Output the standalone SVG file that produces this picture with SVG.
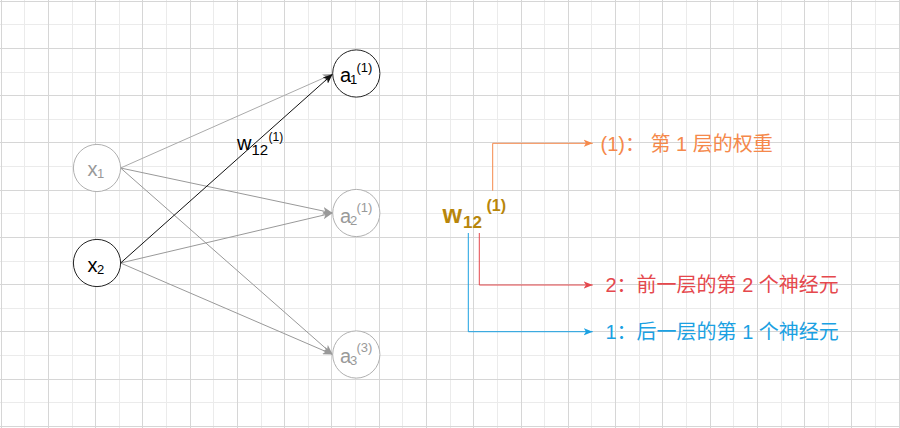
<svg xmlns="http://www.w3.org/2000/svg" width="900" height="428" viewBox="0 0 900 428">
<style>
.t{font-family:"Liberation Sans",Arial,"Noto Sans CJK SC",sans-serif}
.node{fill:#fff;stroke-width:1}
.dim{stroke:#b0b0b0}
.dark{stroke:#222}
.gt{fill:#999}
.bt{fill:#000}
.e{fill:none;stroke-width:1}
</style>
<defs>
<marker id="ag" viewBox="0 0 10 8" refX="10" refY="4" markerWidth="10" markerHeight="8" markerUnits="userSpaceOnUse" orient="auto"><path d="M0,0 L10,4 L0,8 L2.5,4 z" fill="#999"/></marker>
<marker id="ab" viewBox="0 0 10 8" refX="10" refY="4" markerWidth="10" markerHeight="8" markerUnits="userSpaceOnUse" orient="auto"><path d="M0,0 L10,4 L0,8 L2.5,4 z" fill="#111"/></marker>
<marker id="ao" viewBox="0 0 10 8" refX="10" refY="4" markerWidth="9" markerHeight="8" markerUnits="userSpaceOnUse" orient="auto"><path d="M0,0 L10,4 L0,8 L2.5,4 z" fill="#f5894b"/></marker>
<marker id="ar" viewBox="0 0 10 8" refX="10" refY="4" markerWidth="9" markerHeight="8" markerUnits="userSpaceOnUse" orient="auto"><path d="M0,0 L10,4 L0,8 L2.5,4 z" fill="#e5484d"/></marker>
<marker id="au" viewBox="0 0 10 8" refX="10" refY="4" markerWidth="9" markerHeight="8" markerUnits="userSpaceOnUse" orient="auto"><path d="M0,0 L10,4 L0,8 L2.5,4 z" fill="#1ba1e2"/></marker>
</defs>
<rect width="900" height="428" fill="#fff"/>
<g id="grid" fill="none" stroke-width="1">
<path stroke="#ebebeb" d="M24.5,0V428M72.5,0V428M119.5,0V428M166.5,0V428M213.5,0V428M261.5,0V428M308.5,0V428M355.5,0V428M402.5,0V428M450.5,0V428M497.5,0V428M544.5,0V428M591.5,0V428M639.5,0V428M686.5,0V428M733.5,0V428M781.5,0V428M828.5,0V428M875.5,0V428M0,24.5H900M0,72.5H900M0,119.5H900M0,166.5H900M0,213.5H900M0,261.5H900M0,308.5H900M0,355.5H900M0,402.5H900"/>
<path stroke="#d6d6d6" d="M1.5,0V428M48.5,0V428M95.5,0V428M142.5,0V428M190.5,0V428M237.5,0V428M284.5,0V428M331.5,0V428M379.5,0V428M426.5,0V428M473.5,0V428M521.5,0V428M568.5,0V428M615.5,0V428M662.5,0V428M710.5,0V428M757.5,0V428M804.5,0V428M851.5,0V428M899.5,0V428M0,1.5H900M0,48.5H900M0,95.5H900M0,142.5H900M0,190.5H900M0,237.5H900M0,284.5H900M0,331.5H900M0,379.5H900M0,426.5H900"/>
</g>
<g id="connectors">
<line class="e" x1="120.6" y1="168" x2="332.7" y2="74" stroke="#aaa" marker-end="url(#ag)"/>
<line class="e" x1="120.6" y1="168" x2="332.7" y2="213" stroke="#999" marker-end="url(#ag)"/>
<line class="e" x1="120.6" y1="168" x2="332.7" y2="354.5" stroke="#999" marker-end="url(#ag)"/>
<line class="e" x1="120.6" y1="263" x2="332.7" y2="213" stroke="#999" marker-end="url(#ag)"/>
<line class="e" x1="120.6" y1="263" x2="332.7" y2="354.5" stroke="#999" marker-end="url(#ag)"/>
<line class="e" x1="120.6" y1="263" x2="332.7" y2="74" stroke="#111" marker-end="url(#ab)"/>
<text class="t bt"><tspan x="237" y="149.5" font-size="20">w</tspan><tspan x="251.5" y="155" font-size="15">12</tspan><tspan x="268.5" y="141" font-size="12">(1)</tspan></text>
<path class="e" d="M492.7,190.7V143.3H592.7" stroke="#f5894b" marker-end="url(#ao)"/>
<path class="e" d="M479.3,233V285H592.7" stroke="#e5484d" marker-end="url(#ar)"/>
<path class="e" d="M468.3,233V331.7H592.7" stroke="#1ba1e2" marker-end="url(#au)"/>
</g>
<g id="x1">
<circle class="node dim" cx="97" cy="168" r="23.6"/>
<text class="t gt"><tspan x="87.5" y="175.7" font-size="20">x</tspan><tspan x="97" y="178.3" font-size="13">1</tspan></text>
</g>
<g id="x2">
<circle class="node dark" cx="97" cy="263" r="23.6"/>
<text class="t bt"><tspan x="87.5" y="271.5" font-size="20">x</tspan><tspan x="97" y="274" font-size="13">2</tspan></text>
</g>
<g id="a1">
<circle class="node dark" cx="356.3" cy="73.5" r="23.6"/>
<text class="t bt"><tspan x="340" y="81.7" font-size="20">a</tspan><tspan x="350" y="84.3" font-size="13">1</tspan><tspan x="356.5" y="72.3" font-size="13">(1)</tspan></text>
</g>
<g id="a2">
<circle class="node dim" cx="356.3" cy="213" r="23.6"/>
<text class="t gt"><tspan x="340" y="223.3" font-size="20">a</tspan><tspan x="350" y="225" font-size="13">2</tspan><tspan x="356.5" y="212.3" font-size="13">(1)</tspan></text>
</g>
<g id="a3">
<circle class="node dim" cx="356.3" cy="354.5" r="23.6"/>
<text class="t gt"><tspan x="340" y="363.3" font-size="20">a</tspan><tspan x="350" y="365" font-size="13">3</tspan><tspan x="356.5" y="352.3" font-size="13">(3)</tspan></text>
</g>
<g id="w12">
<text class="t" font-weight="bold" fill="#b8860b"><tspan x="442.5" y="223.3" font-size="25">w</tspan><tspan x="463" y="228.3" font-size="17">12</tspan><tspan x="486.5" y="210.6" font-size="16">(1)</tspan></text>
</g>
<g id="labels">
<text class="t" x="600.5" y="151" font-size="20" fill="#f5894b">(1)： 第 1 层的权重</text>
<text class="t" x="605.5" y="292" font-size="20" fill="#e5484d">2：前一层的第 2 个神经元</text>
<text class="t" x="605.5" y="339" font-size="20" fill="#1ba1e2">1：后一层的第 1 个神经元</text>
</g>
</svg>
